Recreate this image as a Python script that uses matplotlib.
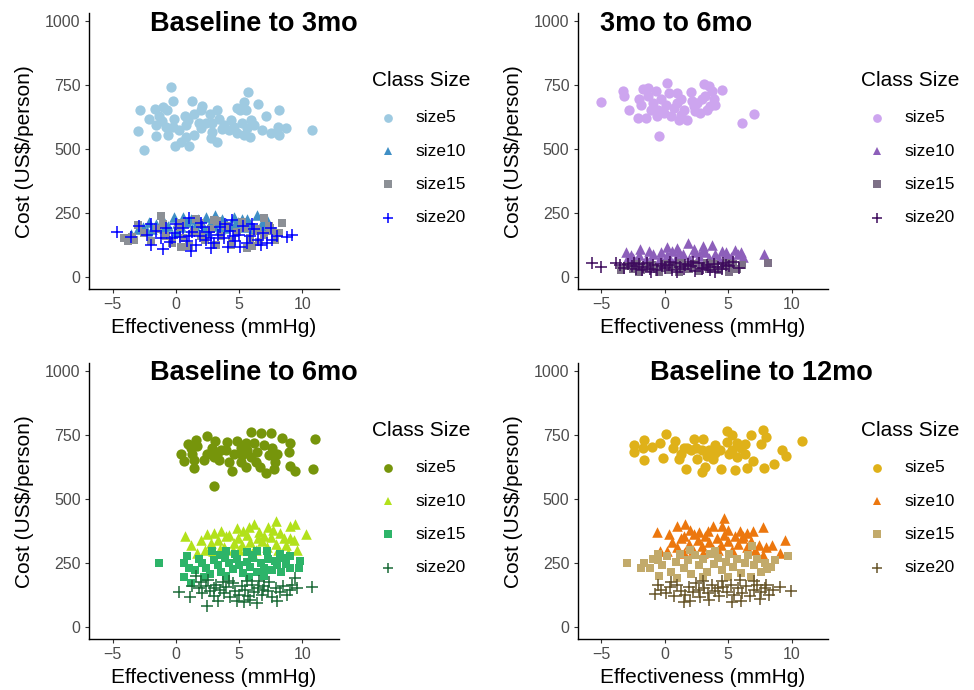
import matplotlib.pyplot as plt
from matplotlib.lines import Line2D

plt.rcParams['font.family'] = ['Liberation Sans', 'DejaVu Sans']

# ---- data (effectiveness mmHg, cost US$/person) ----
labels = ['size5', 'size10', 'size15', 'size20']
titles = ['Baseline to 3mo', '3mo to 6mo', 'Baseline to 6mo', 'Baseline to 12mo']

b3_size5 = [(-0.39, 742), (-2.81, 653), (-2.49, 495), (-3.02, 570), (10.76, 574), (5.72, 722), (-0.21, 687),
            (1.31, 687), (6.50, 676), (8.19, 650), (8.71, 583), (8.09, 587), (8.19, 554), (7.56, 563),
            (7.14, 630), (-0.08, 511), (1.05, 513), (-1.55, 550), (-0.65, 554), (3.23, 528), (2.76, 544),
            (-1.63, 657), (-1.05, 664), (-0.71, 653), (-1.31, 627), (-2.15, 616), (-1.57, 594), (-1.10, 607),
            (-0.13, 616), (0.73, 627), (1.44, 636), (2.05, 669), (1.97, 650), (3.28, 653), (2.70, 636),
            (3.41, 616), (4.33, 614), (4.86, 660), (5.38, 683), (5.04, 650), (5.51, 653), (5.91, 614),
            (6.17, 594), (5.64, 583), (4.86, 561), (5.38, 554), (5.86, 548), (6.83, 574), (4.20, 574),
            (3.68, 577), (2.89, 567), (1.97, 581), (1.44, 554), (0.79, 548), (0.26, 574), (0.79, 594),
            (1.83, 601), (2.36, 601), (2.89, 601), (3.81, 594), (4.59, 587), (5.25, 601), (0.92, 614),
            (0.39, 528), (-0.79, 587), (-0.26, 587)]
b3_size10 = [(-3.54, 168), (-2.10, 214), (-1.05, 221), (-0.18, 234), (0.53, 234), (1.18, 227), (1.76, 227),
             (2.36, 234), (3.07, 241), (3.68, 227), (4.59, 234), (5.25, 227), (5.64, 227), (6.38, 243),
             (7.22, 221), (-2.6, 195), (-1.6, 205), (-0.6, 200), (0.1, 210), (0.9, 215), (1.5, 200),
             (2.0, 212), (2.7, 205), (3.3, 218), (4.0, 210), (4.3, 200), (4.9, 215), (5.9, 205), (6.8, 210),
             (-1.9, 185), (-0.9, 190), (0.4, 195), (1.3, 185), (2.2, 192), (3.0, 198), (3.9, 190), (4.7, 205),
             (5.4, 195), (6.1, 188), (7.0, 200), (-3.0, 185), (-2.3, 180), (0.0, 175), (2.5, 180), (3.5, 185)]
b3_size15 = [(-4.07, 151), (-3.02, 204), (-1.18, 237), (0.39, 210), (3.28, 217), (5.64, 111), (6.96, 230),
             (8.40, 210), (8.14, 171), (7.48, 190), (6.43, 177), (4.33, 124), (-3.3, 145), (-3.5, 155),
             (-2.5, 170), (-2.0, 140), (-1.5, 185), (-0.8, 160), (-0.3, 130), (0.2, 195), (0.6, 150),
             (1.0, 120), (1.4, 175), (1.9, 210), (2.3, 145), (2.8, 185), (3.2, 125), (3.6, 160), (4.0, 200),
             (4.4, 140), (4.8, 175), (5.2, 215), (5.9, 150), (6.3, 185), (6.6, 135), (7.0, 165), (7.4, 200),
             (7.8, 145), (-3.8, 140), (1.6, 225), (3.0, 220), (0.4, 115), (-1.0, 205), (2.0, 160), (5.5, 190),
             (7.6, 180), (6.0, 120)]
b3_size20 = [(-4.65, 173), (-3.54, 154), (-2.89, 197), (9.19, 164), (8.80, 154), (1.05, 230), (1.18, 101),
             (-1.97, 124), (4.46, 223), (2.76, 111), (7.61, 144), (-2.3, 165), (-1.6, 180), (-1.2, 150),
             (-0.8, 190), (-0.5, 135), (-0.1, 170), (0.3, 155), (0.6, 190), (0.9, 140), (1.3, 175), (1.6, 125),
             (1.9, 160), (2.1, 195), (2.4, 145), (2.6, 175), (3.0, 130), (3.3, 165), (3.5, 195), (3.8, 150),
             (4.1, 115), (4.3, 180), (4.7, 140), (5.0, 165), (5.3, 200), (5.6, 130), (5.9, 160), (6.2, 185),
             (6.5, 145), (6.9, 170), (7.2, 130), (7.5, 190), (8.0, 160), (0.0, 205), (-1.0, 110), (2.0, 210),
             (3.9, 205), (5.1, 115), (6.0, 205), (-2.0, 205), (1.0, 160), (4.5, 160), (2.8, 150), (-0.3, 150),
             (6.7, 125)]

m3_size5 = [(-5.05, 684), (-3.31, 726), (-3.23, 706), (-2.84, 651), (-2.08, 620), (-1.48, 620), (-0.49, 552),
            (0.16, 759), (-0.63, 627), (-1.74, 733), (-1.35, 739), (-2.0, 693), (-1.88, 673), (-0.70, 726),
            (-0.96, 680), (-0.57, 653), (0.34, 720), (0.99, 720), (1.25, 693), (2.03, 722), (0.08, 673),
            (0.73, 660), (0.47, 627), (1.12, 614), (1.77, 614), (1.51, 653), (-0.05, 640), (2.55, 680),
            (2.42, 647), (2.81, 640), (3.07, 753), (3.46, 746), (3.73, 726), (3.20, 706), (3.85, 693),
            (3.59, 667), (3.33, 653), (4.51, 730), (2.94, 693), (2.16, 686), (-0.31, 693), (-1.35, 706),
            (-1.09, 653), (6.12, 601), (7.05, 636), (1.25, 634), (2.29, 667), (0.99, 680), (3.98, 673)]
m3_size10 = [(-3.05, 98), (-1.93, 108), (-1.22, 102), (0.16, 115), (1.12, 98), (1.82, 132), (3.02, 122),
             (3.73, 124), (4.51, 102), (5.55, 106), (6.20, 79), (7.83, 88), (-0.31, 95), (4.90, 82), (2.42, 95),
             (-2.5, 75), (-2.0, 85), (-1.5, 70), (-0.9, 90), (-0.4, 72), (0.2, 85), (0.6, 100), (0.9, 75),
             (1.4, 88), (1.9, 70), (2.3, 110), (2.7, 82), (3.2, 95), (3.5, 72), (4.0, 88), (4.3, 70), (4.8, 95),
             (5.2, 78), (5.8, 90), (-3.0, 70), (-1.1, 60), (0.5, 62), (2.0, 60), (3.9, 62), (5.0, 65),
             (-2.7, 85), (1.0, 112), (3.0, 105), (6.0, 95)]
m3_size15 = [(8.15, 52), (6.09, 45), (-1.88, 25), (-0.44, 19), (5.68, 32), (-3.44, 25), (-3.0, 40), (-2.5, 30),
             (-2.2, 50), (-1.5, 35), (-1.0, 45), (-0.6, 30), (-0.1, 50), (0.3, 25), (0.7, 40), (1.1, 20),
             (1.5, 45), (1.9, 30), (2.3, 50), (2.7, 22), (3.1, 40), (3.5, 30), (3.9, 48), (4.3, 25), (4.7, 40),
             (5.1, 20), (5.4, 50), (4.0, 35), (2.0, 38), (0.0, 35), (-2.0, 20), (1.3, 55), (3.3, 55), (4.9, 55)]
m3_size20 = [(-5.73, 52), (-5.0, 38), (-3.83, 52), (5.42, 58), (5.89, 34), (-1.09, 19), (-3.5, 45), (-3.2, 35),
             (-2.9, 50), (-2.6, 40), (-2.3, 30), (-2.0, 48), (-1.7, 38), (-1.4, 55), (-1.2, 32), (-0.9, 45),
             (-0.6, 28), (-0.3, 50), (0.0, 36), (0.3, 44), (0.6, 25), (0.9, 52), (1.2, 38), (1.5, 30), (1.8, 48),
             (2.1, 40), (2.4, 22), (2.7, 55), (3.0, 35), (3.3, 45), (3.6, 28), (3.9, 50), (4.2, 38), (4.5, 30),
             (4.8, 46), (5.1, 40), (-2.4, 55), (0.4, 58), (2.2, 58), (4.0, 20), (1.0, 18), (-0.2, 40), (1.6, 45),
             (3.4, 38), (-1.8, 25), (2.9, 30), (4.6, 55)]

b6_size5 = [(2.49, 747), (0.39, 675), (0.92, 715), (1.57, 731), (1.71, 708), (0.61, 648), (1.31, 677),
            (1.44, 650), (1.44, 621), (2.99, 552), (3.09, 727), (2.89, 697), (3.02, 664), (3.41, 650),
            (4.07, 724), (4.86, 728), (3.94, 691), (4.59, 677), (4.46, 608), (4.20, 644), (5.12, 644),
            (5.51, 624), (5.96, 761), (6.77, 757), (7.56, 757), (5.51, 717), (6.17, 717), (5.64, 691),
            (6.43, 684), (6.96, 711), (7.61, 697), (6.30, 644), (6.69, 624), (7.14, 601), (7.87, 644),
            (7.74, 617), (8.40, 739), (9.06, 720), (8.92, 684), (9.06, 627), (9.45, 608), (10.97, 733),
            (10.84, 615), (7.35, 671), (5.12, 697), (3.54, 691), (2.49, 677), (2.23, 650), (3.28, 677),
            (5.25, 671), (5.91, 664), (8.01, 677), (1.18, 697)]
b6_size10 = [(0.73, 355), (1.71, 288), (2.49, 361), (3.02, 368), (3.60, 375), (3.94, 355), (5.33, 375),
             (6.17, 401), (6.96, 355), (7.70, 377), (7.95, 415), (9.06, 395), (9.45, 401), (10.31, 361),
             (9.32, 341), (8.53, 348), (4.59, 328), (2.76, 328), (9.61, 301), (1.2, 320), (2.0, 340), (2.3, 300),
             (3.3, 340), (3.8, 310), (4.2, 360), (4.5, 300), (4.9, 345), (5.2, 320), (5.6, 360), (5.9, 330),
             (6.3, 300), (6.6, 370), (6.8, 335), (7.2, 310), (7.5, 350), (7.9, 325), (8.2, 365), (8.7, 320),
             (9.0, 345), (4.8, 385), (5.8, 390), (6.5, 345), (8.1, 300), (3.5, 305), (2.9, 295), (7.3, 390),
             (5.0, 300), (6.0, 290), (8.9, 290)]
b6_size15 = [(-1.36, 251), (0.87, 277), (0.65, 251), (0.65, 193), (1.18, 171), (2.10, 251), (2.89, 297),
             (3.94, 297), (5.64, 291), (6.43, 297), (7.22, 297), (9.00, 277), (9.84, 257), (9.71, 231),
             (9.06, 231), (8.35, 213), (7.87, 257), (1.5, 220), (1.8, 265), (2.4, 230), (2.7, 205), (3.0, 260),
             (3.3, 240), (3.6, 215), (3.9, 270), (4.2, 250), (4.5, 225), (4.8, 265), (5.0, 240), (5.3, 210),
             (5.6, 255), (5.9, 235), (6.1, 270), (6.4, 215), (6.7, 250), (7.0, 230), (7.3, 265), (7.6, 220),
             (8.0, 240), (8.4, 270), (8.7, 245), (4.0, 200), (5.8, 195), (7.0, 200), (2.2, 195), (3.5, 280),
             (4.7, 285), (6.0, 280), (1.0, 230), (8.2, 285)]
b6_size20 = [(0.26, 137), (1.10, 117), (2.44, 80), (1.57, 200), (2.54, 184), (9.45, 191), (10.73, 155),
             (9.06, 144), (5.38, 97), (6.43, 91), (1.8, 150), (2.1, 130), (2.4, 160), (2.7, 140), (3.0, 120),
             (3.2, 165), (3.5, 145), (3.8, 130), (4.0, 155), (4.3, 115), (4.5, 170), (4.7, 140), (5.0, 125),
             (5.2, 160), (5.5, 145), (5.7, 120), (6.0, 165), (6.2, 135), (6.5, 150), (6.8, 125), (7.0, 160),
             (7.3, 140), (7.6, 115), (7.9, 150), (8.2, 135), (8.5, 160), (8.8, 125), (3.3, 100), (4.2, 180),
             (5.9, 105), (7.4, 175), (2.0, 175), (3.7, 175), (6.6, 180), (8.0, 100), (9.6, 150), (4.8, 100),
             (5.6, 180), (3.0, 150), (6.9, 145), (9.2, 165), (1.3, 160)]

b12_size5 = [(-2.40, 711), (-2.45, 684), (-1.61, 731), (-1.74, 697), (-1.04, 701), (-1.61, 651), (-0.18, 660),
             (-0.36, 720), (0.08, 755), (0.80, 728), (0.68, 697), (1.25, 677), (1.12, 657), (1.64, 617),
             (2.29, 733), (2.03, 691), (1.72, 697), (3.02, 733), (2.95, 691), (2.55, 657), (2.95, 604),
             (3.20, 624), (3.33, 667), (3.98, 711), (4.38, 691), (4.45, 617), (3.80, 657), (4.90, 764),
             (5.34, 751), (4.90, 724), (5.68, 717), (5.03, 677), (5.68, 664), (5.55, 611), (6.33, 715),
             (6.33, 677), (6.80, 751), (7.71, 771), (7.97, 741), (7.63, 715), (6.98, 648), (6.46, 621),
             (7.84, 621), (8.62, 637), (9.27, 691), (9.53, 668), (10.84, 728), (3.5, 690), (2.5, 700),
             (4.0, 680), (1.5, 700), (5.3, 690), (6.0, 700)]
b12_size10 = [(-0.63, 371), (0.34, 361), (0.99, 395), (1.56, 401), (1.51, 355), (2.29, 361), (3.80, 392),
              (4.51, 392), (4.69, 424), (5.55, 355), (6.20, 355), (6.93, 375), (7.76, 388), (9.45, 341),
              (8.49, 321), (9.06, 288), (7.76, 281), (-0.36, 295), (0.16, 295), (0.6, 330), (1.0, 310),
              (1.3, 345), (1.9, 325), (2.2, 300), (2.6, 340), (2.9, 315), (3.2, 355), (3.5, 330), (3.8, 305),
              (4.1, 345), (4.4, 320), (4.7, 360), (5.0, 335), (5.3, 300), (5.8, 325), (6.1, 345), (6.5, 310),
              (6.8, 335), (7.1, 300), (7.4, 320), (8.0, 310), (2.7, 370), (3.4, 375), (5.0, 380), (5.9, 375),
              (6.5, 365), (2.0, 380), (4.2, 300), (1.5, 290), (3.0, 290)]
b12_size15 = [(-2.99, 251), (-1.61, 251), (9.71, 277), (6.85, 317), (-0.49, 197), (-0.57, 284), (8.10, 224),
              (-1.2, 230), (-0.9, 265), (-0.2, 240), (0.2, 275), (0.5, 215), (0.9, 255), (1.2, 285), (1.5, 230),
              (1.8, 260), (2.1, 205), (2.4, 280), (2.7, 240), (3.0, 265), (3.3, 215), (3.6, 285), (3.9, 245),
              (4.2, 270), (4.5, 220), (4.8, 255), (5.1, 285), (5.4, 235), (5.7, 265), (6.0, 210), (6.3, 250),
              (6.6, 280), (7.0, 240), (7.3, 265), (7.6, 215), (7.9, 250), (8.4, 235), (-1.9, 230), (1.0, 190),
              (3.0, 195), (5.0, 195), (6.8, 195), (4.0, 295), (2.0, 300), (-0.5, 260), (8.7, 260)]
b12_size20 = [(-0.78, 127), (9.06, 157), (9.98, 141), (7.50, 107), (5.29, 97), (1.51, 97), (5.94, 184),
              (-0.3, 145), (0.1, 130), (0.4, 155), (0.7, 120), (1.0, 165), (1.3, 140), (1.6, 125), (1.9, 155),
              (2.2, 135), (2.5, 170), (2.8, 115), (3.1, 150), (3.4, 130), (3.7, 165), (4.0, 140), (4.3, 120),
              (4.6, 155), (4.9, 135), (5.2, 165), (5.5, 125), (5.8, 150), (6.1, 130), (6.4, 160), (6.7, 120),
              (7.0, 145), (7.3, 165), (7.6, 135), (7.9, 150), (8.2, 125), (8.5, 145), (2.0, 100), (3.5, 105),
              (6.0, 100), (0.5, 175), (3.0, 180), (4.5, 180), (7.0, 180), (8.0, 165), (-0.5, 165), (2.7, 145),
              (4.2, 150)]

panels = [
    [b3_size5, b3_size10, b3_size15, b3_size20],
    [m3_size5, m3_size10, m3_size15, m3_size20],
    [b6_size5, b6_size10, b6_size15, b6_size20],
    [b12_size5, b12_size10, b12_size15, b12_size20],
]
colors = [
    ['#9ECAE1', '#3F8FC5', '#8C9096', '#0000FF'],
    ['#CDA5EF', '#8D5FBA', '#7D7087', '#3D0A5C'],
    ['#76950B', '#B2E11B', '#2DB469', '#1B6B38'],
    ['#DFB119', '#EC770E', '#C2AA6B', '#675529'],
]
markers = ['o', '^', 's', '+']
msizes = [7.4, 7.6, 6.3, 9.2]

W, H = 974, 690
fig = plt.figure(figsize=(W / 100, H / 100), dpi=100)

# panel boxes in pixels: left, top, right, bottom
boxes = [(89, 13.3, 339, 289), (577.7, 13.3, 828.3, 289),
         (89, 363.3, 339, 639), (577.7, 363.3, 828.3, 639)]
title_pos = [(254, 24), (676, 24), (254, 373), (761, 373)]
legend_pos = [(372, 80), (861, 80), (372, 430), (861, 430)]

for i in range(4):
    l, t, r, b = boxes[i]
    ax = fig.add_axes([l / W, 1 - b / H, (r - l) / W, (b - t) / H])
    for j in range(4):
        xs = [p[0] for p in panels[i][j]]
        ys = [p[1] for p in panels[i][j]]
        lw = 1.1 if markers[j] == '+' else 0
        ax.scatter(xs, ys, marker=markers[j], s=msizes[j] ** 2, color=colors[i][j],
                   linewidths=lw, zorder=2 + j)
    ax.set_xlim(-6.87, 12.9)
    ax.set_ylim(-48, 1030)
    ax.set_xticks([-5, 0, 5, 10])
    ax.set_xticklabels(['\u22125', '0', '5', '10'])
    ax.set_yticks([0, 250, 500, 750, 1000])
    for side in ['top', 'right']:
        ax.spines[side].set_visible(False)
    for side in ['left', 'bottom']:
        ax.spines[side].set_linewidth(1.0)
        ax.spines[side].set_color('black')
    ax.tick_params(length=3, width=0.8, color='#333333', labelcolor='#4D4D4D',
                   labelsize=11.5, pad=3)
    ax.set_xlabel('Effectiveness (mmHg)', fontsize=15, labelpad=4)
    ax.set_ylabel(r'Cost (US\$/person)', fontsize=15, labelpad=8)

    tx, ty = title_pos[i]
    fig.text(tx / W, 1 - ty / H, titles[i], ha='center', va='center',
             fontsize=19.5, fontweight='bold')

    # legend
    lx, ly = legend_pos[i]
    fig.text(lx / W, 1 - ly / H, 'Class Size', ha='left', va='center', fontsize=15)
    for j in range(4):
        ey = ly + 38 + j * 33.2
        fig.add_artist(Line2D([(lx + 16) / W], [1 - ey / H], marker=markers[j], linestyle='',
                              markersize=msizes[j] * 0.85, color=colors[i][j],
                              markeredgewidth=1.1 if markers[j] == '+' else 0))
        fig.text((lx + 43) / W, 1 - ey / H, labels[j], ha='left', va='center', fontsize=12.5)

fig.savefig('out.png', dpi=100)
